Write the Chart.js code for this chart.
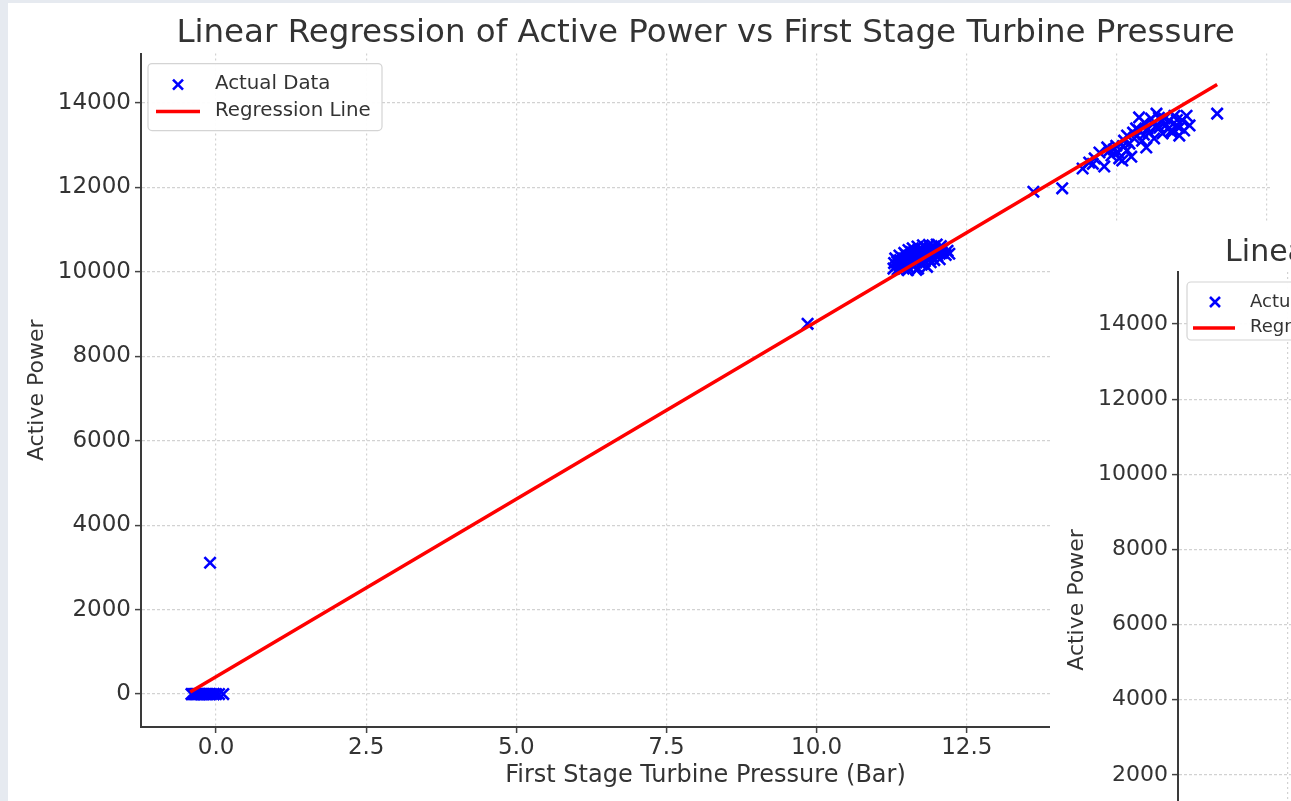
<!DOCTYPE html>
<html>
<head>
<meta charset="utf-8">
<title>Linear Regression of Active Power vs First Stage Turbine Pressure</title>
<script src="https://cdn.jsdelivr.net/npm/chart.js@4.4.1/dist/chart.umd.min.js"></script>
<style>
  html, body { margin: 0; padding: 0; }
  body { width: 1291px; height: 801px; overflow: hidden; background: #e6eaf0; position: relative; }
  canvas { position: absolute; background: #fff; }
  #main { left: 8px; top: 3px; }
  #second { left: 1050px; top: 223px; }
</style>
</head>
<body>
<canvas id="main" width="1300" height="798"></canvas>
<canvas id="second" width="1249" height="770"></canvas>
<script>
// Data

// turbine idle: pressure around zero, no power
const idleX = [-0.41, -0.39, -0.37, -0.35, -0.33, -0.31, -0.29, -0.27, -0.25, -0.22,
               -0.20, -0.17, -0.14, -0.11, -0.08, -0.04, 0.00, 0.05, 0.12];
const idleY = [0, 0, 0, 0, 0, 0, 0, 0, 0, 0,
               0, 0, 0, 0, 0, 0, 0, 0, 0];

// isolated points
const singleX = [-0.10, 9.85, 13.61, 14.09, 16.67];
const singleY = [3110, 8770, 11900, 11980, 13750];

// cluster around 10 MW
const midX = [11.28, 11.29, 11.31, 11.33, 11.35, 11.36, 11.38, 11.40, 11.41, 11.43,
              11.45, 11.46, 11.48, 11.50, 11.51, 11.52, 11.53, 11.54, 11.56, 11.57,
              11.59, 11.60, 11.62, 11.63, 11.65, 11.66, 11.66, 11.68, 11.69, 11.71,
              11.72, 11.74, 11.75, 11.77, 11.78, 11.80, 11.81, 11.83, 11.84, 11.86,
              11.87, 11.89, 11.90, 11.92, 11.93, 11.95, 11.96, 11.98, 12.00, 12.01,
              12.03, 12.05, 12.07, 12.09, 12.12, 12.15, 12.18, 12.21,
              11.34, 11.39, 11.44, 11.49, 11.58, 11.64, 11.70, 11.76, 11.82, 11.88,
              11.94, 12.02, 11.61, 11.73];
const midY = [10080, 10210, 10320, 10150, 10060, 10260, 10390, 10120, 10200, 10330,
              10080, 10450, 10260, 10160, 10370, 10040, 10520, 10090, 10230, 10410,
              10300, 10560, 10140, 10480, 10350, 10220, 10050, 10600, 10080, 10420,
              10290, 10520, 10170, 10630, 10380, 10250, 10470, 10560, 10120, 10330,
              10640, 10430, 10230, 10520, 10360, 10600, 10280, 10460, 10650, 10380,
              10530, 10300, 10610, 10450, 10560, 10400, 10500, 10430,
              10240, 10280, 10190, 10400, 10470, 10280, 10510, 10330, 10400, 10540,
              10450, 10470, 10380, 10200];

// cluster at full load
const peakX = [14.43, 14.54, 14.63, 14.71, 14.79, 14.84, 14.88, 14.91, 14.99, 15.02,
               15.04, 15.09, 15.12, 15.17, 15.17, 15.21, 15.24, 15.29, 15.32, 15.37,
               15.37, 15.42, 15.46, 15.49, 15.51, 15.54, 15.57, 15.62, 15.66, 15.67,
               15.71, 15.74, 15.76, 15.79, 15.82, 15.87, 15.91, 15.92, 15.96, 15.99,
               16.04, 16.04, 16.09, 16.12, 16.16, 16.21,
               14.60, 14.95, 15.10, 15.27, 15.45, 15.60, 15.85, 16.00, 15.70];
const peakY = [12450, 12590, 12690, 12830, 12500, 12950, 12880, 12760, 12990, 12830,
               12690, 12640, 13110, 12880, 13230, 13040, 12730, 13160, 13400, 13350,
               13660, 13110, 13540, 12950, 13400, 13300, 13630, 13160, 13750, 13440,
               13420, 13590, 13280, 13630, 13490, 13590, 13350, 13300, 13700, 13470,
               13420, 13230, 13590, 13350, 13700, 13470,
               12560, 12900, 12980, 13300, 13250, 13500, 13380, 13600, 13650];

// regression line end points
const lineX = [-0.43, 16.67];
const lineY = [50, 14440];

// axis ticks
const xTicks = [0, 2.5, 5, 7.5, 10, 12.5, 15, 17.5];
const xTicks2 = [-2.5, 0, 2.5, 5, 7.5, 10, 12.5, 15];
const yTicks = [0, 2000, 4000, 6000, 8000, 10000, 12000, 14000];

const TITLE = 'Linear Regression of Active Power vs First Stage Turbine Pressure';

const toPoints = (xs, ys) => xs.map((x, i) => ({ x: x, y: ys[i] }));
const actual = [].concat(
    toPoints(idleX, idleY),
    toPoints(singleX, singleY),
    toPoints(midX, midY),
    toPoints(peakX, peakY)
);
const regression = toPoints(lineX, lineY);

Chart.defaults.font.family = "'DejaVu Sans', sans-serif";
Chart.defaults.color = '#333';

// matplotlib style legend box inside the plot
const legendBox = {
    id: 'legendBox',
    afterDraw(chart, args, o) {
        const ctx = chart.ctx;
        const area = chart.chartArea;
        const x = area.left + o.dx, y = area.top + o.dy;
        const scatterSet = chart.data.datasets[0];
        const lineSet = chart.data.datasets[1];
        ctx.save();
        ctx.beginPath();
        ctx.roundRect(x, y, o.w, o.h, 4);
        ctx.fillStyle = 'rgba(255,255,255,0.95)';
        ctx.fill();
        ctx.strokeStyle = '#d4d4d4';
        ctx.lineWidth = 1.2;
        ctx.stroke();

        // marker sample
        const mx = x + o.markX, my = y + o.row1, r = o.cross;
        ctx.strokeStyle = scatterSet.borderColor;
        ctx.lineWidth = scatterSet.pointBorderWidth;
        ctx.beginPath();
        ctx.moveTo(mx - r, my - r); ctx.lineTo(mx + r, my + r);
        ctx.moveTo(mx - r, my + r); ctx.lineTo(mx + r, my - r);
        ctx.stroke();

        // line sample
        ctx.strokeStyle = lineSet.borderColor;
        ctx.lineWidth = lineSet.borderWidth;
        ctx.beginPath();
        ctx.moveTo(x + o.lineX0, y + o.row2);
        ctx.lineTo(x + o.lineX1, y + o.row2);
        ctx.stroke();

        ctx.fillStyle = '#333';
        ctx.font = o.fontSize + "px 'DejaVu Sans', sans-serif";
        ctx.textBaseline = 'middle';
        ctx.textAlign = 'left';
        ctx.fillText(scatterSet.label, x + o.textX, y + o.text1);
        ctx.fillText(lineSet.label, x + o.textX, y + o.text2);
        ctx.restore();
    }
};

function buildConfig(s) {
    return {
        type: 'scatter',
        data: {
            datasets: [
                {
                    label: 'Actual Data',
                    data: actual,
                    pointStyle: 'crossRot',
                    pointRadius: 8,
                    pointHoverRadius: 8,
                    borderColor: '#0000ff',
                    backgroundColor: '#0000ff',
                    pointBorderWidth: 2.6,
                    order: 2
                },
                {
                    type: 'line',
                    label: 'Regression Line',
                    data: regression,
                    borderColor: '#ff0000',
                    borderWidth: 3.5,
                    pointRadius: 0,
                    fill: false,
                    order: 1
                }
            ]
        },
        options: {
            responsive: false,
            animation: false,
            events: [],
            layout: { padding: { left: 0, top: 0, right: s.padRight, bottom: 0 } },
            plugins: {
                legend: { display: false },
                tooltip: { enabled: false },
                title: {
                    display: true,
                    text: TITLE,
                    fullSize: false,
                    color: '#333',
                    font: { size: s.titleSize, weight: 'normal' },
                    padding: { top: s.titleTop, bottom: s.titleBottom }
                },
                legendBox: s.legend
            },
            scales: {
                x: {
                    type: 'linear',
                    min: s.xMin,
                    max: s.xMax,
                    afterBuildTicks: a => { a.ticks = s.xTicks.map(v => ({ value: v })); },
                    afterFit: a => { a.height = s.xH; },
                    ticks: {
                        callback: v => v.toFixed(1),
                        font: { size: s.tickSize },
                        color: '#333',
                        padding: 1,
                        maxRotation: 0,
                        autoSkip: false
                    },
                    grid: {
                        color: '#d2d2d2',
                        lineWidth: 1.2,
                        tickLength: 6,
                        tickColor: '#444',
                        tickWidth: 1.5,
                        tickBorderDash: []
                    },
                    border: { color: '#3a3a3a', width: 2, dash: [2, 3] },
                    title: {
                        display: true,
                        text: 'First Stage Turbine Pressure (Bar)',
                        font: { size: s.xLabelSize },
                        color: '#333',
                        padding: { top: 0, bottom: 11 }
                    }
                },
                y: {
                    type: 'linear',
                    min: s.yMin,
                    max: s.yMax,
                    afterBuildTicks: a => { a.ticks = yTicks.map(v => ({ value: v })); },
                    afterFit: a => { a.width = s.yW; },
                    ticks: {
                        callback: v => String(v),
                        font: { size: s.tickSize },
                        color: '#333',
                        padding: 4,
                        autoSkip: false
                    },
                    grid: {
                        color: '#d2d2d2',
                        lineWidth: 1.2,
                        tickLength: 6,
                        tickColor: '#444',
                        tickWidth: 1.5,
                        tickBorderDash: []
                    },
                    border: { color: '#3a3a3a', width: 2, dash: [3, 2] },
                    title: {
                        display: true,
                        text: 'Active Power',
                        font: { size: s.yLabelSize },
                        color: '#333',
                        padding: { top: s.yTitlePad, bottom: 0 }
                    }
                }
            }
        },
        plugins: [legendBox]
    };
}

// main chart
new Chart(document.getElementById('main'), buildConfig({
    titleSize: 32.5, titleTop: 11, titleBottom: 0.6, padRight: 38,
    tickSize: 23, xLabelSize: 24, yLabelSize: 22,
    xMin: -1.25, xMax: 17.55, xTicks: xTicks, xH: 74,
    yMin: -780, yMax: 15172, yW: 133, yTitlePad: 16,
    legend: { dx: 7, dy: 10, w: 234, h: 67, markX: 30, row1: 21, cross: 5,
              lineX0: 8, lineX1: 52, row2: 48, textX: 67, text1: 20, text2: 47, fontSize: 19.8 }
}));

// second chart, mostly hidden behind the right edge
new Chart(document.getElementById('second'), buildConfig({
    titleSize: 30, titleTop: 12, titleBottom: 1, padRight: 50,
    tickSize: 22, xLabelSize: 22, yLabelSize: 22,
    xMin: -4.68, xMax: 16.54, xTicks: xTicks2, xH: 65,
    yMin: -2075, yMax: 15384, yW: 128, yTitlePad: 14,
    legend: { dx: 9, dy: 10, w: 200, h: 58, markX: 28, row1: 20, cross: 5,
              lineX0: 6, lineX1: 48, row2: 46, textX: 63, text1: 20, text2: 45, fontSize: 18 }
}));
</script>
</body>
</html>
